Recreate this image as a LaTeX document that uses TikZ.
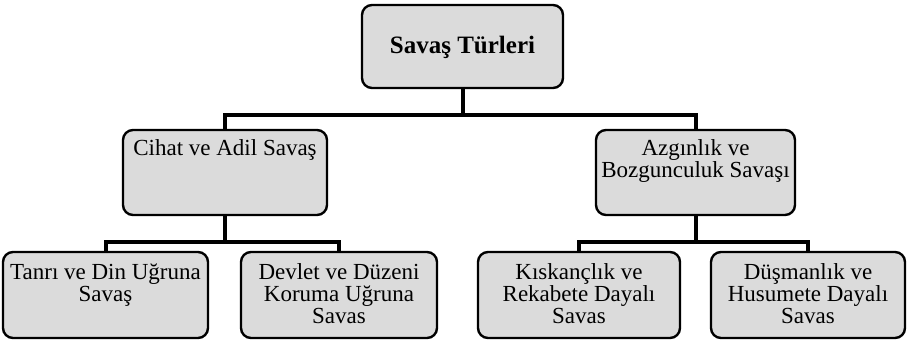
\documentclass[tikz,border=0pt]{standalone}
\usepackage{fontspec}
\setmainfont{Liberation Serif}
\begin{document}
\begin{tikzpicture}[x=1pt,y=-1pt,
  box/.style={draw=black, line width=2.4pt, rounded corners=10pt, fill=black!14, inner sep=0pt},
  conn/.style={draw=black, line width=4pt},
]
\useasboundingbox (0,0) rectangle (907,345);
\newcommand{\bx}[4]{\parbox[c][#2pt][t]{#1pt}{\centering\vspace{#3pt}#4\par}}
\fontsize{23}{22}\selectfont
\node[box] (top) at (462.5,46.5) {\bx{201}{83}{31}{\fontsize{25}{26}\selectfont\textbf{Savaş Türleri}}};
\node[box] (cihat) at (225,172.5) {\bx{204}{85}{10}{Cihat ve Adil Savaş}};
\node[box] (azg) at (695.5,172.5) {\bx{199}{85}{10}{Azgınlık ve\\Bozgunculuk Savaşı}};
\node[box] (tanri) at (105.5,295) {\bx{205}{86}{12}{Tanrı ve Din Uğruna\\Savaş}};
\node[box] (devlet) at (339,295) {\bx{196}{86}{12}{Devlet ve Düzeni\\Koruma Uğruna\\Savas}};
\node[box] (kisk) at (579,295) {\bx{202}{86}{12}{Kıskançlık ve\\Rekabete Dayalı\\Savas}};
\node[box] (dus) at (808,295) {\bx{194}{86}{12}{Düşmanlık ve\\Husumete Dayalı\\Savas}};
\coordinate (j1) at (top.south |- 0,115);
\coordinate (j2) at (cihat.south |- 0,242);
\coordinate (j3) at (azg.south |- 0,242);
\draw[conn] (top.south) -- (j1);
\draw[conn] (cihat.north) |- (j1) -| (azg.north);
\draw[conn] (cihat.south) -- (j2);
\draw[conn] (tanri.north) |- (j2) -| (devlet.north);
\draw[conn] (azg.south) -- (j3);
\draw[conn] (kisk.north) |- (j3) -| (dus.north);
\end{tikzpicture}
\end{document}
